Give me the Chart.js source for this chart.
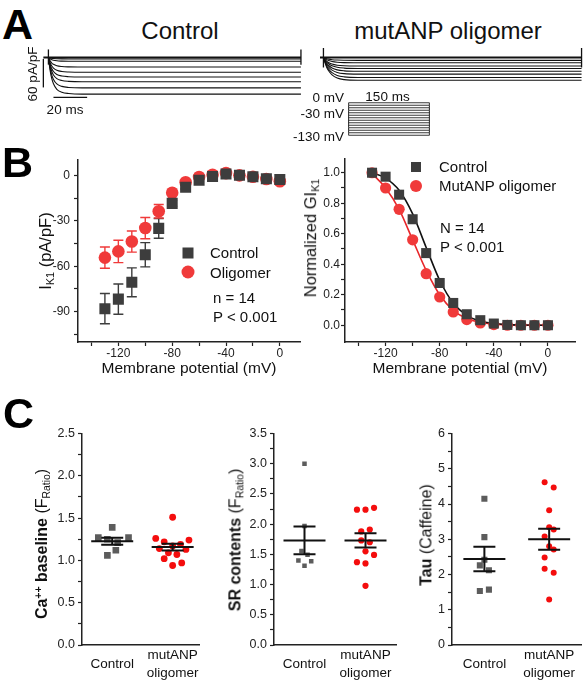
<!DOCTYPE html>
<html lang="en">
<head>
<meta charset="UTF-8">
<title>IK1 and Ca handling</title>
<script src="https://cdn.jsdelivr.net/npm/chart.js"></script>
<style>
  body { margin: 0; background: #fff; font-family: Arial, "Liberation Sans", Helvetica, sans-serif; }
  #fig { position: relative; width: 587px; height: 682px; overflow: hidden; }
  canvas { position: absolute; }
  .t { position: absolute; white-space: nowrap; line-height: 1.2; color: #111; }
  .c { transform: translate(-50%, -50%); }
  .l { transform: translateY(-50%); }
  .r { transform: translate(-100%, -50%); }
  .v { transform: translate(-50%, -50%) rotate(-90deg); }
  .letter { font-size: 43px; font-weight: bold; line-height: 1; color: #000; }
  .mk { position: absolute; transform: translate(-50%, -50%); }
  .ct { font-size: 16px; }
  sub { font-size: 0.65em; vertical-align: baseline; position: relative; top: 0.3em; }
  sup { font-size: 0.65em; vertical-align: baseline; position: relative; top: -0.5em; }
</style>
</head>
<body>
<div id="fig">
  <div class="t letter l" style="left:2px;top:24px">A</div>
  <div class="t letter l" style="left:2px;top:162px">B</div>
  <div class="t letter l" style="left:3px;top:413px">C</div>

  <div class="t c" style="left:180px;top:31px;font-size:24px">Control</div>
  <div class="t c" style="left:448px;top:31px;font-size:24px">mutANP oligomer</div>
  <div class="t v" style="left:33px;top:74px;font-size:13.5px">60 pA/pF</div>
  <div class="t c" style="left:65px;top:110px;font-size:13.5px">20 ms</div>
  <div class="t r" style="left:344px;top:97.5px;font-size:13.5px">0 mV</div>
  <div class="t r" style="left:344px;top:114px;font-size:13.5px">-30 mV</div>
  <div class="t r" style="left:344px;top:136.5px;font-size:13.5px">-130 mV</div>
  <div class="t c" style="left:387.5px;top:96.5px;font-size:13.5px">150 ms</div>

  <div class="t v" style="left:45.5px;top:251px;font-size:16.5px">I<sub>K1</sub> (pA/pF)</div>
  <span class="mk" style="left:188px;top:253px;width:11px;height:11px;background:#3d3d3d"></span>
  <span class="mk" style="left:188px;top:272px;width:13px;height:13px;border-radius:50%;background:#f03a3a"></span>
  <div class="t l" style="left:210px;top:253px;font-size:15px">Control</div>
  <div class="t l" style="left:210px;top:273px;font-size:15px">Oligomer</div>
  <div class="t l" style="left:213px;top:297.5px;font-size:15px">n = 14</div>
  <div class="t l" style="left:213px;top:316.5px;font-size:15px">P &lt; 0.001</div>

  <div class="t v" style="left:310.5px;top:238px;font-size:16.5px">Normalized GI<sub>K1</sub></div>
  <span class="mk" style="left:416px;top:167px;width:10px;height:10px;background:#3d3d3d"></span>
  <span class="mk" style="left:416px;top:186px;width:12px;height:12px;border-radius:50%;background:#f03a3a"></span>
  <div class="t l" style="left:439px;top:167px;font-size:15px">Control</div>
  <div class="t l" style="left:439px;top:186px;font-size:15px">MutANP oligomer</div>
  <div class="t l" style="left:440px;top:228px;font-size:15px">N = 14</div>
  <div class="t l" style="left:440px;top:247px;font-size:15px">P &lt; 0.001</div>

  <div class="t v ct" style="left:41.5px;top:543.5px"><b>Ca<sup>++</sup> baseline</b> (F<sub>Ratio</sub>)</div>
  <div class="t v ct" style="left:234.5px;top:540px"><b>SR contents</b> (F<sub>Ratio</sub>)</div>
  <div class="t v ct" style="left:426px;top:535px"><b>Tau</b> (Caffeine)</div>
</div>

<script>
// ---- panel A: current traces and voltage protocol ----
const traceTimes = [0, 1, 2, 3, 5, 8, 12, 20, 150];
const ctrlTraces = [
  [0, -1.1, -1.7, -2.2, -2.6, -2.9, -3, -3, -3],
  [0, -2.8, -4.6, -5.8, -7, -7.6, -7.9, -8, -8],
  [0, -7, -11.6, -14.4, -17.4, -19, -19.7, -20, -20],
  [0, -10.9, -18, -22.3, -27, -29.5, -30.5, -31, -31],
  [0, -14.4, -23.8, -29.5, -35.7, -39, -40.4, -41, -41],
  [0, -17.9, -29.6, -36.7, -44.4, -48.5, -50.2, -51, -51],
  [0, -22.4, -37.1, -46.1, -55.7, -60.8, -63, -64, -64],
  [0, -27, -44.7, -55.4, -67, -73.2, -75.8, -77, -77]
];
const oligoTraces = [
  [0, -1.5, -2.7, -3.5, -4.6, -5.4, -5.8, -6, -6],
  [0, -2.8, -5, -6.4, -8.4, -9.9, -10.7, -11, -11],
  [0, -4.5, -8.1, -10.4, -13.7, -16.2, -17.5, -18, -18],
  [0, -5.8, -10.4, -13.3, -17.5, -20.7, -22.3, -23, -23],
  [0, -7.3, -13.1, -16.8, -22, -26.1, -28.1, -29, -29],
  [0, -8.8, -15.8, -20.3, -26.6, -31.5, -34, -35, -35],
  [0, -10.5, -18.9, -24.4, -31.9, -37.8, -40.7, -42, -42],
  [0, -12, -21.6, -27.8, -36.5, -43.2, -46.6, -48, -48]
];
const stepVoltages = [-130, -120, -110, -100, -90, -80, -70, -60, -50, -40, -30, -20, -10, 0];

// ---- panel B: I-V and conductance ----
const ivVoltages = [-130, -120, -110, -100, -90, -80, -70, -60, -50, -40, -30, -20, -10, 0];
const ctrlIK1 = [-88, -81.7, -70.6, -52.4, -35, -18.5, -7.8, -3.3, -0.7, 0.9, 0, -0.9, -2.2, -2.8];
const ctrlIK1Err = [10, 10, 9.5, 8, 6.5, 2, 1.2, 1, 0.8, 0.8, 0.8, 0.8, 0.8, 0.8];
const oligoIK1 = [-54.3, -50.2, -43.7, -34.8, -23.7, -11.5, -4.6, -1.1, 0.4, 1.5, 0, -0.9, -2.4, -3.9];
const oligoIK1Err = [7, 7.4, 7, 7, 4.5, 1.5, 1, 0.8, 0.8, 0.8, 0.8, 0.8, 0.8, 0.8];
const ctrlG = [1.0, 0.974, 0.856, 0.695, 0.473, 0.277, 0.146, 0.072, 0.033, 0.011, 0.002, 0, 0, 0];
const oligoG = [1.0, 0.90, 0.76, 0.56, 0.338, 0.185, 0.087, 0.037, 0.015, 0.004, 0, 0, 0, 0];
const ctrlGFit = [1.0, 0.965, 0.885, 0.73, 0.51, 0.295, 0.145, 0.065, 0.027, 0.011, 0.004, 0.001, 0, 0];
const oligoGFit = [0.995, 0.9, 0.76, 0.56, 0.36, 0.2, 0.097, 0.044, 0.019, 0.007, 0.003, 0.001, 0, 0];
const ivXTicks = [-140, -120, -100, -80, -60, -40, -20, 0];
const ivXLabels = [-120, -80, -40, 0];
const ikYTicks = [-105, -90, -75, -60, -45, -30, -15, 0];
const ikYLabels = [-90, -60, -30, 0];
const gYTicks = [0, 0.1, 0.2, 0.3, 0.4, 0.5, 0.6, 0.7, 0.8, 0.9, 1.0];
const gYLabels = [0, 0.2, 0.4, 0.6, 0.8, 1.0];

// ---- panel C: calcium handling ----
const groupLabels = ['Control', ['mutANP', 'oligomer']];
const c1Ctrl = [1.39, 1.27, 1.27, 1.25, 1.21, 1.12, 1.06];
const c1CtrlJit = [0, -0.23, 0.27, -0.08, 0.09, 0.06, -0.08];
const c1Oligo = [1.51, 1.26, 1.24, 1.22, 1.19, 1.17, 1.14, 1.13, 1.09, 1.07, 1.02, 0.97, 0.94];
const c1OligoJit = [0, -0.28, 0.27, -0.14, 0.13, 0, -0.22, 0.22, -0.07, 0.07, -0.14, 0.15, 0];
const c1Mean = [1.226, 1.157];
const c1Sem = [0.041, 0.039];
const c2Ctrl = [3.0, 1.97, 1.555, 1.495, 1.40, 1.385, 1.31];
const c2CtrlJit = [0, 0, -0.05, 0.05, -0.1, 0.11, 0];
const c2Oligo = [2.24, 2.24, 2.27, 1.88, 1.91, 1.73, 1.70, 1.55, 1.49, 1.37, 1.35, 0.98];
const c2OligoJit = [-0.14, 0, 0.14, -0.07, 0.07, -0.07, 0.07, 0, 0.14, -0.14, 0, 0];
const c2Mean = [1.73, 1.73];
const c2Sem = [0.23, 0.118];
const c3Ctrl = [4.15, 3.06, 2.42, 2.26, 2.12, 1.53, 1.57];
const c3CtrlJit = [0, 0, 0, -0.07, 0.07, -0.07, 0.07];
const c3Oligo = [4.62, 4.47, 3.82, 3.34, 3.28, 3.08, 2.80, 2.71, 2.48, 2.16, 2.05, 1.29];
const c3OligoJit = [-0.07, 0.07, 0, 0, 0.07, -0.07, 0, 0.07, -0.07, -0.07, 0.07, 0];
const c3Mean = [2.44, 3.0];
const c3Sem = [0.345, 0.295];
const c1YTicks = [0, 0.25, 0.5, 0.75, 1, 1.25, 1.5, 1.75, 2, 2.25, 2.5];
const c1YLabels = [0, 0.5, 1, 1.5, 2, 2.5];
const c2YTicks = [0, 0.25, 0.5, 0.75, 1, 1.25, 1.5, 1.75, 2, 2.25, 2.5, 2.75, 3, 3.25, 3.5];
const c2YLabels = [0, 0.5, 1, 1.5, 2, 2.5, 3, 3.5];
const c3YTicks = [0, 0.5, 1, 1.5, 2, 2.5, 3, 3.5, 4, 4.5, 5, 5.5, 6];
const c3YLabels = [0, 1, 2, 3, 4, 5, 6];

const GRAY = '#3d3d3d';
const RED = '#f03a3a';
const C_GRAY = '#5c5c5c';
const C_RED = '#f40d0d';

Chart.defaults.font.family = 'Arial, "Liberation Sans", Helvetica, sans-serif';
Chart.defaults.color = '#222';
Chart.defaults.plugins.legend.display = false;
Chart.defaults.plugins.tooltip.enabled = false;
Chart.defaults.animation = false;
Chart.defaults.responsive = false;
Chart.defaults.devicePixelRatio = 1;

const fig = document.getElementById('fig');
function canvasAt(left, top, w, h) {
  const c = document.createElement('canvas');
  c.width = w; c.height = h;
  c.style.left = left + 'px'; c.style.top = top + 'px';
  c.style.width = w + 'px'; c.style.height = h + 'px';
  fig.insertBefore(c, fig.firstChild);
  return c;
}
const pts = (xs, ys) => xs.map((x, i) => ({ x, y: ys[i] }));

// error bars for the I-V plot
const errorBars = {
  id: 'errorBars',
  beforeDatasetsDraw(chart) {
    const { ctx, scales: { x, y } } = chart;
    chart.data.datasets.forEach(ds => {
      if (!ds.errors) return;
      ctx.save();
      ctx.strokeStyle = ds.errColor;
      ctx.lineWidth = 1.4;
      ds.data.forEach((p, i) => {
        const px = x.getPixelForValue(p.x);
        const y1 = y.getPixelForValue(p.y - ds.errors[i]);
        const y2 = y.getPixelForValue(p.y + ds.errors[i]);
        ctx.beginPath();
        ctx.moveTo(px, y1); ctx.lineTo(px, y2);
        ctx.moveTo(px - 5, y1); ctx.lineTo(px + 5, y1);
        ctx.moveTo(px - 5, y2); ctx.lineTo(px + 5, y2);
        ctx.stroke();
      });
      ctx.restore();
    });
  }
};

// mean +/- SEM marks for the dot plots
const meanSem = {
  id: 'meanSem',
  afterDatasetsDraw(chart, args, o) {
    const { ctx, scales: { x, y } } = chart;
    ctx.save();
    ctx.strokeStyle = '#111';
    ctx.lineWidth = 2;
    o.means.forEach((m, i) => {
      const cx = x.getPixelForValue(i);
      const ym = y.getPixelForValue(m);
      const yt = y.getPixelForValue(m + o.sems[i]);
      const yb = y.getPixelForValue(m - o.sems[i]);
      ctx.beginPath();
      ctx.moveTo(cx - 21, ym); ctx.lineTo(cx + 21, ym);
      ctx.moveTo(cx - 11, yt); ctx.lineTo(cx + 11, yt);
      ctx.moveTo(cx - 11, yb); ctx.lineTo(cx + 11, yb);
      ctx.moveTo(cx, yt); ctx.lineTo(cx, yb);
      ctx.stroke();
    });
    ctx.restore();
  }
};

function linAxis(min, max, tickVals, labelVals, dec, o) {
  const ax = {
    type: 'linear', min, max,
    afterBuildTicks: s => { s.ticks = tickVals.map(v => ({ value: v })); },
    afterFit: s => { if (o.width) s.width = o.width; if (o.height) s.height = o.height; },
    ticks: {
      autoSkip: false, maxRotation: 0, padding: o.pad, color: '#222',
      font: { size: o.size || 12 },
      callback: v => labelVals.some(l => Math.abs(l - v) < 1e-6) ? v.toFixed(dec) : ''
    },
    grid: { drawOnChartArea: false, drawTicks: true, tickLength: 4, tickColor: '#222', tickWidth: 1.2 },
    border: { color: '#222', width: 1.5 }
  };
  if (o.title) ax.title = { display: true, text: o.title, color: '#111', font: { size: 15.5 }, padding: 0 };
  return ax;
}

function groupAxis(max) {
  return {
    type: 'linear', min: -0.5, max,
    afterBuildTicks: s => { s.ticks = [{ value: 0 }, { value: 1 }]; },
    afterFit: s => { s.height = 37; },
    ticks: {
      autoSkip: false, maxRotation: 0, padding: 10.7, crossAlign: 'center', color: '#111',
      font: { size: 13.5, lineHeight: 1.3 },
      callback: v => groupLabels[Math.round(v)]
    },
    grid: { display: false, drawTicks: false },
    border: { color: '#222', width: 1.5 }
  };
}

function line(data, w, color) {
  return { data, showLine: true, borderColor: color || '#111', borderWidth: w, pointRadius: 0,
           cubicInterpolationMode: 'monotone', clip: false };
}

function traceChart(cv, xMin, xMax, yMin, yMax, datasets) {
  return new Chart(cv, {
    type: 'scatter',
    data: { datasets },
    options: {
      layout: { padding: 0 },
      scales: {
        x: { type: 'linear', min: xMin, max: xMax, display: false },
        y: { type: 'linear', min: yMin, max: yMax, display: false }
      }
    }
  });
}

// control traces, with scale bars (60 pA/pF, 20 ms)
traceChart(canvasAt(40, 48, 266, 57), -5, 153, -100, 20, [
  line([{ x: -3, y: 0 }, { x: 150, y: 0 }], 2.2),
  ...ctrlTraces.map(v => line(pts(traceTimes, v), 1.1)),
  line([{ x: 0, y: 17 }, { x: 0, y: -15 }], 1.3),
  line([{ x: 150, y: 17 }, { x: 150, y: -15 }], 1.3),
  line([{ x: -3, y: -3 }, { x: -3, y: -63 }], 1.3),
  line([{ x: 3, y: -84 }, { x: 23, y: -84 }], 1.3)
]);

// oligomer traces
traceChart(canvasAt(320, 48, 265, 57), -2, 152, -100, 20, [
  line([{ x: -2, y: 0 }, { x: 150, y: 0 }], 2.2),
  ...oligoTraces.map(v => line(pts(traceTimes, v), 1.1)),
  line([{ x: 0, y: 20 }, { x: 0, y: -21 }], 1.3),
  line([{ x: 150, y: 20 }, { x: 150, y: -21 }], 1.3)
]);

// voltage protocol
traceChart(canvasAt(347, 102, 84, 34), -3, 153, -133, 3, [
  ...stepVoltages.map(v => line([{ x: 0, y: v }, { x: 150, y: v }], 0.9, '#222')),
  line([{ x: 0, y: -130 }, { x: 0, y: 0 }], 1, '#222'),
  line([{ x: 150, y: -130 }, { x: 150, y: 0 }], 1, '#222')
]);

// B left: I-V
new Chart(canvasAt(0, 149, 312, 229), {
  type: 'scatter',
  data: { datasets: [
    { data: pts(ivVoltages, ctrlIK1), errors: ctrlIK1Err, errColor: GRAY, pointStyle: 'rect',
      pointRadius: 7.8, backgroundColor: GRAY, borderWidth: 0 },
    { data: pts(ivVoltages, oligoIK1), errors: oligoIK1Err, errColor: RED, pointStyle: 'circle',
      pointRadius: 6.3, backgroundColor: RED, borderWidth: 0 }
  ] },
  options: {
    layout: { padding: { top: 10, right: 12, left: 0, bottom: 0 } },
    scales: {
      x: linAxis(-150, 15, ivXTicks, ivXLabels, 0, { height: 36, pad: 0, title: 'Membrane potential (mV)' }),
      y: linAxis(-110, 10, ikYTicks, ikYLabels, 0, { width: 78, pad: 4 })
    }
  },
  plugins: [errorBars]
});

// B right: normalized conductance with fits
new Chart(canvasAt(300, 149, 285, 229), {
  type: 'scatter',
  data: { datasets: [
    { data: pts(ivVoltages, ctrlG), pointStyle: 'rect', pointRadius: 7.1, backgroundColor: GRAY, borderWidth: 0 },
    { data: pts(ivVoltages, oligoG), pointStyle: 'circle', pointRadius: 5.6, backgroundColor: RED, borderWidth: 0 },
    line(pts(ivVoltages, ctrlGFit), 1.6, '#111'),
    line(pts(ivVoltages, oligoGFit), 1.6, '#e8262a')
  ] },
  options: {
    layout: { padding: { top: 10, right: 10, left: 0, bottom: 0 } },
    scales: {
      x: linAxis(-150, 20, ivXTicks, ivXLabels, 0, { height: 36, pad: 0, title: 'Membrane potential (mV)' }),
      y: linAxis(-0.11, 1.09, gYTicks, gYLabels, 1, { width: 45, pad: 1 })
    }
  }
});

// C: dot plots
function dotPlot(cv, xMax, padRight, yMax, yTicks, yLabels, dec, ctrl, ctrlJit, oligo, oligoJit,
                 sqR, ciR, means, sems) {
  new Chart(cv, {
    type: 'scatter',
    data: { datasets: [
      { data: ctrl.map((v, i) => ({ x: 0 + ctrlJit[i], y: v })), pointStyle: 'rect', pointRadius: sqR,
        backgroundColor: C_GRAY, borderWidth: 0 },
      { data: oligo.map((v, i) => ({ x: 1 + oligoJit[i], y: v })), pointStyle: 'circle', pointRadius: ciR,
        backgroundColor: C_RED, borderWidth: 0 }
    ] },
    options: {
      layout: { padding: { top: 10, right: padRight, left: 0, bottom: 0 } },
      plugins: { meanSem: { means, sems } },
      scales: {
        x: groupAxis(xMax),
        y: linAxis(0, yMax, yTicks, yLabels, dec, { width: 30, pad: 3, size: 12.5 })
      }
    },
    plugins: [meanSem]
  });
}

dotPlot(canvasAt(52, 423, 160, 259), 1.45, 12, 2.5, c1YTicks, c1YLabels, 1,
        c1Ctrl, c1CtrlJit, c1Oligo, c1OligoJit, 4.7, 3.4, c1Mean, c1Sem);
dotPlot(canvasAt(244, 423, 164, 259), 1.5, 12, 3.5, c2YTicks, c2YLabels, 1,
        c2Ctrl, c2CtrlJit, c2Oligo, c2OligoJit, 3.2, 3.1, c2Mean, c2Sem);
dotPlot(canvasAt(422, 423, 165, 259), 1.5, 5, 6, c3YTicks, c3YLabels, 0,
        c3Ctrl, c3CtrlJit, c3Oligo, c3OligoJit, 4.3, 3.0, c3Mean, c3Sem);
</script>
</body>
</html>
